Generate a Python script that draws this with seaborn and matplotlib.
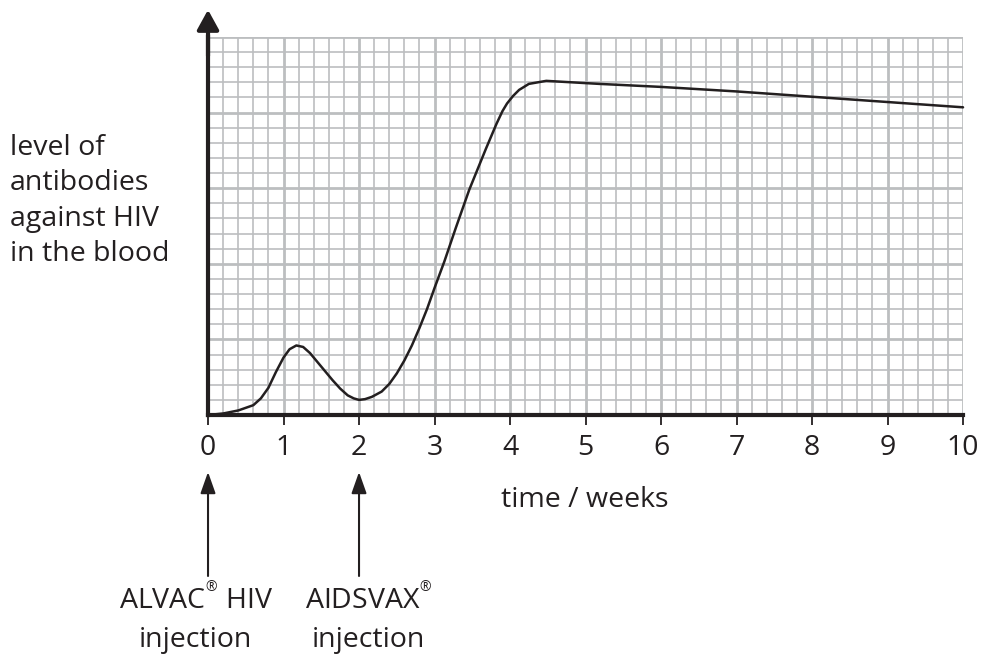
import matplotlib
matplotlib.use("Agg")
import matplotlib.pyplot as plt
import seaborn as sns
import pandas as pd
from matplotlib.ticker import MultipleLocator

# values (y in grid units, 5 major squares high)
weeks = [0, 0.2, 0.4, 0.6, 0.7, 0.8, 0.9, 1.0, 1.08, 1.17, 1.26, 1.35, 1.45, 1.55,
         1.65, 1.75, 1.85, 1.93, 2.0, 2.08, 2.17, 2.3, 2.4, 2.5, 2.6, 2.7, 2.8, 2.9,
         3.0, 3.13, 3.28, 3.46, 3.68, 3.82, 3.9, 3.96, 4.04, 4.12, 4.25, 4.48,
         5.18, 6, 7, 8, 9, 10]
antibodies = [0, 0.02, 0.06, 0.13, 0.22, 0.36, 0.57, 0.76, 0.87, 0.92, 0.9, 0.82,
              0.7, 0.58, 0.46, 0.35, 0.26, 0.22, 0.2, 0.21, 0.24, 0.31, 0.41, 0.55,
              0.72, 0.92, 1.15, 1.4, 1.68, 2.03, 2.47, 2.98, 3.52, 3.85, 4.02, 4.12,
              4.22, 4.3, 4.38, 4.42, 4.38, 4.34, 4.28, 4.21, 4.14, 4.07]
xtick_labels = [str(i) for i in range(11)]
injections = [0, 2]
injection_top = ["ALVAC$^{{}^{®}}$ HIV", "AIDSVAX$^{{}^{®}}$"]
injection_bottom = ["injection", "injection"]

df = pd.DataFrame({"time": weeks, "level": antibodies})

sns.set_style("white")
plt.rcParams["font.family"] = ["Open Sans", "DejaVu Sans"]
plt.rcParams["mathtext.fontset"] = "custom"
plt.rcParams["mathtext.rm"] = "Open Sans"
plt.rcParams["mathtext.it"] = "Open Sans"

ink = "#231f20"
grey = "#bcbec0"
fs = 20.5

fig = plt.figure(figsize=(9.84, 6.55), dpi=100)
ax = fig.add_axes([0.2114, 0.3664, 0.7673, 0.5771])

sns.lineplot(data=df, x="time", y="level", ax=ax, color=ink, linewidth=1.8,
             zorder=5, clip_on=False)

ax.set_xlim(0, 10)
ax.set_ylim(0, 5)
ax.xaxis.set_major_locator(MultipleLocator(1))
ax.xaxis.set_minor_locator(MultipleLocator(0.2))
ax.yaxis.set_major_locator(MultipleLocator(1))
ax.yaxis.set_minor_locator(MultipleLocator(0.2))
ax.grid(which="minor", color=grey, linewidth=1.2, zorder=0)
ax.grid(which="major", color=grey, linewidth=2.0, zorder=0)
ax.set_axisbelow(True)

ax.set_xticks(range(11))
ax.set_xticklabels(xtick_labels, fontsize=fs, color=ink)
ax.tick_params(axis="x", which="major", direction="out", length=7, width=1.3,
               color=ink, pad=6.5, bottom=True)
ax.tick_params(axis="x", which="minor", length=0)
ax.tick_params(axis="y", which="both", length=0, labelleft=False)
ax.set_xlabel("")
ax.set_ylabel("")

for side in ["top", "right"]:
    ax.spines[side].set_visible(False)
for side in ["left", "bottom"]:
    ax.spines[side].set_color(ink)
    ax.spines[side].set_linewidth(3.0)
    ax.spines[side].set_zorder(6)

# arrow head on the y axis
ax.annotate("", xy=(0, 1.072), xytext=(0, 0.95), xycoords="axes fraction",
            arrowprops=dict(arrowstyle="-|>,head_length=0.6,head_width=0.33",
                            color=ink, lw=3.0, mutation_scale=20,
                            shrinkA=0, shrinkB=0))

fig.text(0.010, 0.693, "level of\nantibodies\nagainst HIV\nin the blood",
         fontsize=fs, color=ink, ha="left", va="center", linespacing=1.36)
fig.text(0.5945, 0.237, "time / weeks", fontsize=fs, color=ink,
         ha="center", va="center")

# injection arrows below the axis
for wk, top, bottom, dx in zip(injections, injection_top, injection_bottom,
                               [-0.16, 0.12]):
    ax.annotate("", xy=(wk, 1 - 472 / 655), xytext=(wk, 1 - 576 / 655),
                xycoords=("data", "figure fraction"),
                arrowprops=dict(arrowstyle="-|>,head_length=0.65,head_width=0.23",
                                color=ink, lw=1.5, mutation_scale=20,
                                shrinkA=0, shrinkB=0), annotation_clip=False)
    ax.annotate(top, xy=(wk + dx, 1 - 610 / 655), xycoords=("data", "figure fraction"),
                ha="center", va="baseline", fontsize=fs, color=ink,
                annotation_clip=False)
    ax.annotate(bottom, xy=(wk + dx, 1 - 647 / 655), xycoords=("data", "figure fraction"),
                ha="center", va="baseline", fontsize=fs, color=ink,
                annotation_clip=False)

fig.savefig("out.png", dpi=100)
